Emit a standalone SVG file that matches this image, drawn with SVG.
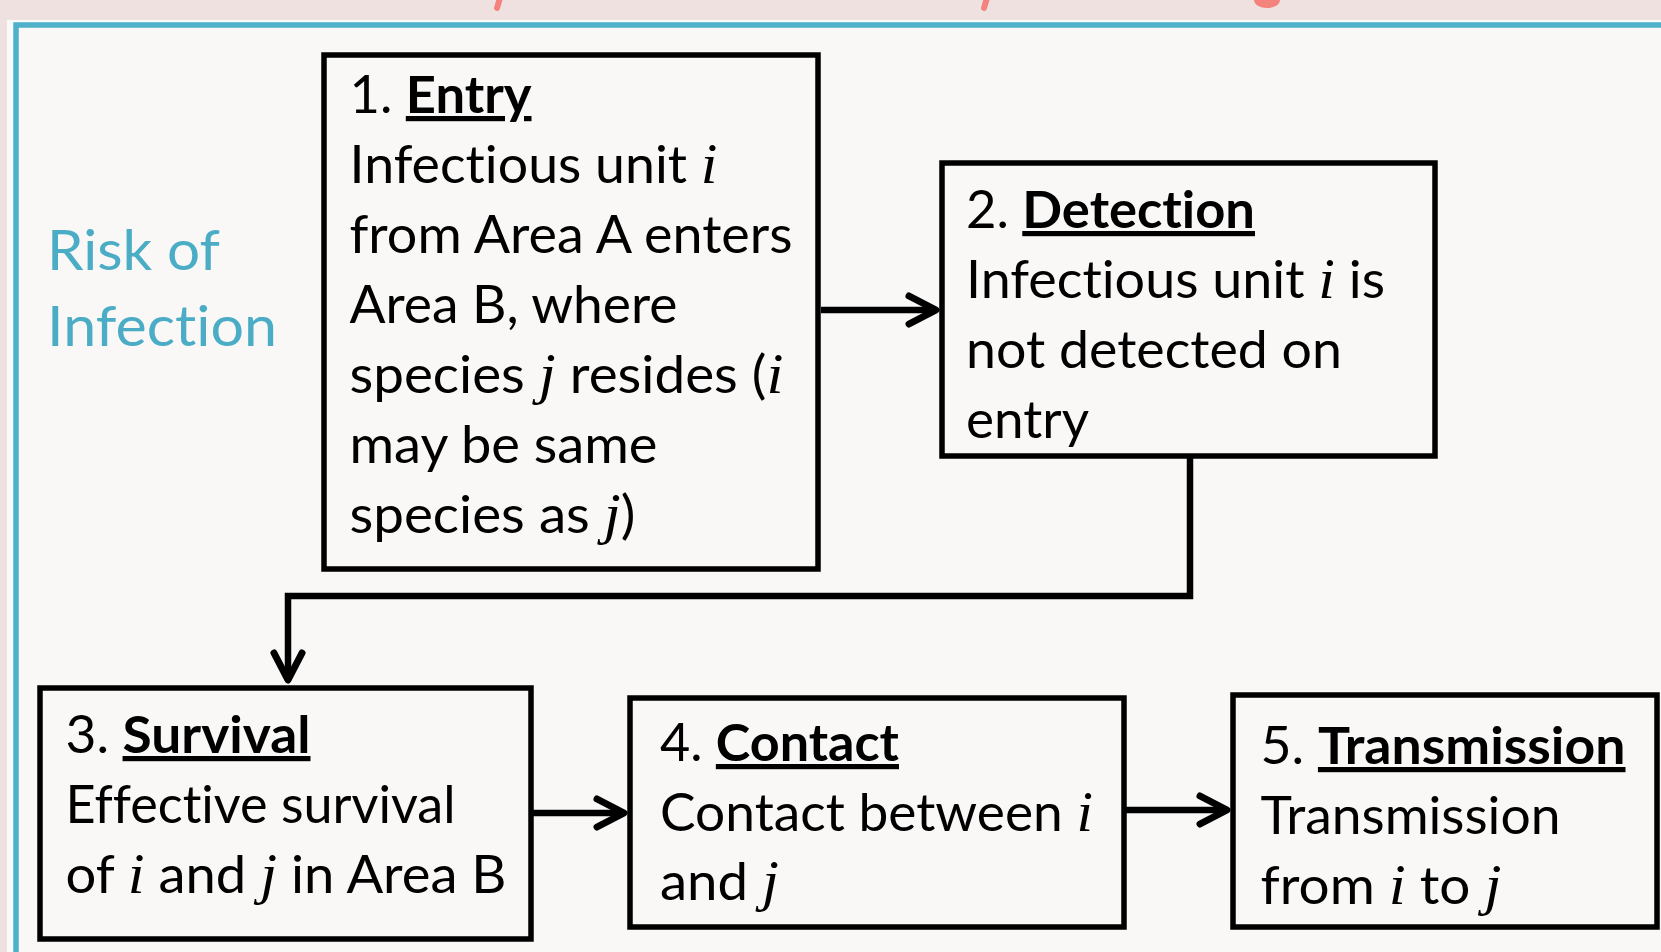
<svg xmlns="http://www.w3.org/2000/svg" width="1661" height="952" viewBox="0 0 1661 952">
<style>
.t{font-family:Lato,"Open Sans",sans-serif;font-size:52px;fill:#000;font-variant-ligatures:none;font-feature-settings:"liga" 0,"clig" 0}
.b{font-weight:bold;text-decoration:underline}
.m{font-family:"Liberation Serif",serif;font-style:italic;font-size:58px}
.box{fill:#f9f8f7;stroke:#000;stroke-width:5.5}
.con{fill:none;stroke:#000;stroke-width:6.5;stroke-linejoin:miter}
.risk{font-family:Lato,"Open Sans",sans-serif;font-size:56px;fill:#4bacc6;font-variant-ligatures:none}
.frag{fill:none;stroke:#f4837d;stroke-width:6;stroke-linecap:round}
</style>
<defs>
<marker id="arr" markerUnits="userSpaceOnUse" markerWidth="60" markerHeight="60" viewBox="-40 -30 50 60" refX="0" refY="0" orient="auto" overflow="visible">
<path d="M-27,-14 L0,0 L-27,14" fill="none" stroke="#000" stroke-width="7" stroke-linecap="round" stroke-linejoin="round"/>
</marker>
</defs>
<rect x="0" y="0" width="1661" height="952" fill="#efe1e0"/>
<g id="title-fragments">
<path class="frag" d="M500,-2 L497,8"/>
<path class="frag" d="M987,-2 L984,8"/>
<ellipse cx="1267" cy="0" rx="13" ry="8" fill="#f4837d"/>
</g>
<rect x="7" y="20" width="1700" height="1000" fill="#fbfafa"/>
<rect id="frame" x="16" y="25" width="1700" height="1000" fill="#f9f8f7" stroke="#4fb0c9" stroke-width="5.5"/>
<g id="risk-label">
<text class="risk" x="47" y="270" textLength="173" lengthAdjust="spacingAndGlyphs">Risk of</text>
<text class="risk" x="47" y="346" textLength="230" lengthAdjust="spacingAndGlyphs">Infection</text>
</g>
<g id="connectors">
<path class="con" d="M821,310 H936" marker-end="url(#arr)"/>
<path class="con" d="M1190,458 V596 H288 V680" marker-end="url(#arr)"/>
<path class="con" d="M533,813 H624" marker-end="url(#arr)"/>
<path class="con" d="M1126,810 H1227" marker-end="url(#arr)"/>
</g>
<g id="node-entry">
<rect class="box" x="324" y="55" width="494" height="514"/>
<text class="t" x="349.5" y="113" textLength="182" lengthAdjust="spacingAndGlyphs">1. <tspan class="b">Entry</tspan></text>
<text class="t" x="349.5" y="183" textLength="368" lengthAdjust="spacingAndGlyphs">Infectious unit <tspan class="m">i</tspan></text>
<text class="t" x="349.5" y="253" textLength="443" lengthAdjust="spacingAndGlyphs">from Area A enters</text>
<text class="t" x="349.5" y="323" textLength="328" lengthAdjust="spacingAndGlyphs">Area B, where</text>
<text class="t" x="349.5" y="393" textLength="434" lengthAdjust="spacingAndGlyphs">species <tspan class="m">j</tspan> resides (<tspan class="m">i</tspan></text>
<text class="t" x="349.5" y="463" textLength="308" lengthAdjust="spacingAndGlyphs">may be same</text>
<text class="t" x="349.5" y="533" textLength="286" lengthAdjust="spacingAndGlyphs">species as <tspan class="m">j</tspan>)</text>
</g>
<g id="node-detection">
<rect class="box" x="942" y="163" width="493" height="293"/>
<text class="t" x="966" y="228" textLength="289" lengthAdjust="spacingAndGlyphs">2. <tspan class="b">Detection</tspan></text>
<text class="t" x="966" y="298" textLength="419" lengthAdjust="spacingAndGlyphs">Infectious unit <tspan class="m">i</tspan> is</text>
<text class="t" x="966" y="368" textLength="376" lengthAdjust="spacingAndGlyphs">not detected on</text>
<text class="t" x="966" y="438" textLength="123" lengthAdjust="spacingAndGlyphs">entry</text>
</g>
<g id="node-survival">
<rect class="box" x="40" y="688" width="491" height="251"/>
<text class="t" x="65.5" y="753" textLength="245" lengthAdjust="spacingAndGlyphs">3. <tspan class="b">Survival</tspan></text>
<text class="t" x="65.5" y="823" textLength="390" lengthAdjust="spacingAndGlyphs">Effective survival</text>
<text class="t" x="65.5" y="893" textLength="441" lengthAdjust="spacingAndGlyphs">of <tspan class="m">i</tspan> and <tspan class="m">j</tspan> in Area B</text>
</g>
<g id="node-contact">
<rect class="box" x="630" y="698" width="494" height="229"/>
<text class="t" x="660" y="761" textLength="239" lengthAdjust="spacingAndGlyphs">4. <tspan class="b">Contact</tspan></text>
<text class="t" x="660" y="831" textLength="433" lengthAdjust="spacingAndGlyphs">Contact between <tspan class="m">i</tspan></text>
<text class="t" x="660" y="900" textLength="119" lengthAdjust="spacingAndGlyphs">and <tspan class="m">j</tspan></text>
</g>
<g id="node-transmission">
<rect class="box" x="1233" y="695" width="424" height="232"/>
<text class="t" x="1260.5" y="764" textLength="365" lengthAdjust="spacingAndGlyphs">5. <tspan class="b">Transmission</tspan></text>
<text class="t" x="1260.5" y="834" textLength="300" lengthAdjust="spacingAndGlyphs">Transmission</text>
<text class="t" x="1260.5" y="904" textLength="241" lengthAdjust="spacingAndGlyphs">from <tspan class="m">i</tspan> to <tspan class="m">j</tspan></text>
</g>
</svg>
